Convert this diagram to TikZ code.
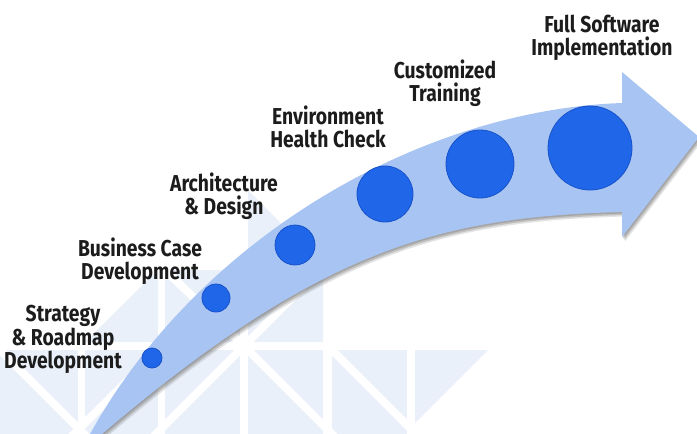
\documentclass[tikz,border=0pt]{standalone}
\usepackage{fontspec}
\newfontfamily\lblfont[FakeStretch=0.84]{Fira Sans}
\definecolor{bgpat}{RGB}{233,240,249}
\definecolor{arrowfill}{RGB}{168,196,243}
\definecolor{dotblue}{RGB}{31,102,233}
\definecolor{dotedge}{RGB}{24,82,200}
\definecolor{txt}{RGB}{28,28,28}
\begin{document}
\begin{tikzpicture}[x=1pt,y=-1pt,
  gapline/.style={white,line width=8pt},
  dot/.style={circle,fill=dotblue,draw=dotedge,line width=0.8pt,inner sep=0pt},
  lbl/.style={font=\lblfont\bfseries\fontsize{23}{22.5}\selectfont,align=center,anchor=north,inner sep=0pt,text=txt}]
\useasboundingbox (0,0) rectangle (697,434);
\clip (0,0) rectangle (697,434);
\fill[white] (0,0) rectangle (697,434);
% background watermark pattern
\fill[bgpat] (85,342) -- (158,342) -- (158,270) -- cycle;
\fill[bgpat] (165,270) rectangle (240,342);
\fill[bgpat] (248,190) -- (323,265) -- (323,342) -- (248,342) -- cycle;
\fill[bgpat] (0,350) rectangle (78,440);
\fill[bgpat] (85,350) rectangle (158,440);
\fill[bgpat] (165,350) rectangle (240,440);
\fill[bgpat] (248,350) rectangle (323,440);
\fill[bgpat] (332,350) rectangle (407,440);
\fill[bgpat] (415,350) -- (488,350) -- (415,423) -- cycle;
\draw[gapline] (165,270) -- (240,342);
\draw[gapline] (248,342) -- (323,267);
\draw[gapline] (0,350) -- (90,440);
\draw[gapline] (158,350) -- (68,440);
\draw[gapline] (240,350) -- (150,440);
\draw[gapline] (248,350) -- (338,440);
\draw[gapline] (332,350) -- (422,440);
% arrow shadow
\foreach \dx/\dy/\op in {1/1.5/0.35, 2/3/0.3, 3/4.5/0.2}{
  \fill[black!55,opacity=\op,shift={(\dx,\dy)}]
    (88,440) -- (90,434) .. controls (200,236) and (422,110) .. (622,103)
    -- (622,72) -- (699,137) -- (622,237) -- (622,212)
    .. controls (442,217) and (322,247) .. (102,434) -- (104,440) -- cycle;
}
% arrow
\fill[arrowfill]
  (88,440) -- (90,434) .. controls (200,236) and (422,110) .. (622,103)
  -- (622,72) -- (699,137) -- (622,237) -- (622,212)
  .. controls (442,217) and (322,247) .. (102,434) -- (104,440) -- cycle;
% dots
\node[dot,minimum size=20pt] (d1) at (152,358) {};
\node[dot,minimum size=28pt] (d2) at (216,298) {};
\node[dot,minimum size=40pt] (d3) at (295,245) {};
\node[dot,minimum size=56pt] (d4) at (385,194) {};
\node[dot,minimum size=68pt] (d5) at (480,164) {};
\node[dot,minimum size=84pt] (d6) at (590,148) {};
% labels
\node[lbl] (l1) at (63,305) {Strategy\\\& Roadmap\\Development};
\node[lbl] (l2) at (140,238) {Business Case\\Development};
\node[lbl] (l3) at (224,173) {Architecture\\\& Design};
\node[lbl] (l4) at (328,106) {Environment\\Health Check};
\node[lbl] (l5) at (445,60) {Customized\\Training};
\node[lbl] (l6) at (602,15) {Full Software\\Implementation};
\end{tikzpicture}
\end{document}
